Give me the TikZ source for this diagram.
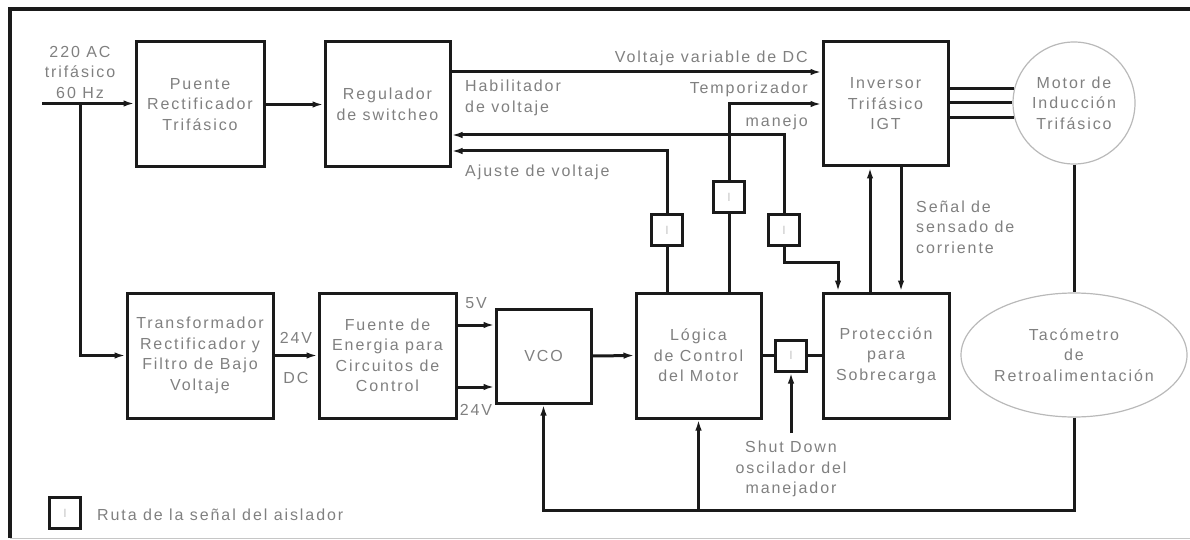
\documentclass[tikz,border=0pt]{standalone}
\usepackage{fontspec}
\setmainfont{Liberation Sans}[LetterSpace=12]
\usetikzlibrary{arrows.meta,calc,shapes.geometric}
\definecolor{txt}{HTML}{808080}
\definecolor{ln}{HTML}{1A1A1A}
\begin{document}
\begin{tikzpicture}[x=1pt,y=-1pt,
  font=\fontsize{16}{20.5}\selectfont,
  blk/.style={draw=ln, line width=3pt, text=txt, align=center, inner sep=0pt},
  iso/.style={draw=ln, line width=3pt, text=gray!45, minimum width=31pt, minimum height=31pt, inner sep=0pt, font=\fontsize{12}{12}\selectfont},
  lbl/.style={text=txt, inner sep=0pt},
  wire/.style={draw=ln, line width=3pt},
  arr/.style={wire, -{Latex[length=11pt,width=6.5pt]}}]
\useasboundingbox (0,0) rectangle (1190,540);
% frame
\draw[ln, line width=3.4pt] (10,538) -- (10,9) -- (1190,9);
\draw[gray!45, line width=1pt] (10,538) -- (1190,538);
% blocks
\node[blk, minimum width=128pt, minimum height=125pt] (puente) at (200,104.5) {Puente\\Rectificador\\Trifásico};
\node[blk, minimum width=125pt, minimum height=125pt] (reg) at (387.5,104.5) {Regulador\\de switcheo};
\node[blk, minimum width=125pt, minimum height=124pt] (inv) at (885.5,104) {Inversor\\Trifásico\\IGT};
\node[circle, draw=gray!55, line width=1.2pt, minimum size=122pt, text=txt, align=center, inner sep=0pt] (motor) at (1074,103) {Motor de\\Inducción\\Trifásico};
\node[blk, minimum width=146pt, minimum height=125pt] (trans) at (200,355.5) {Transformador\\Rectificador y\\Filtro de Bajo\\Voltaje};
\node[blk, minimum width=137pt, minimum height=125pt] (fuente) at (387.5,355.5) {Fuente de\\Energia para\\Circuitos de\\Control};
\node[blk, minimum width=95pt, minimum height=94pt] (vco) at (543.5,356) {VCO};
\node[blk, minimum width=125pt, minimum height=125pt] (logica) at (698.5,355.5) {Lógica\\de Control\\del Motor};
\node[blk, minimum width=126pt, minimum height=125pt] (prot) at (886,355.5) {Protección\\para\\Sobrecarga};
\node[ellipse, draw=gray!55, line width=1.2pt, minimum width=226pt, minimum height=124pt, text=txt, align=center, inner sep=0pt] (tac) at (1074,355) {Tacómetro\\de\\Retroalimentación};
% isolators
\node[iso] (i1) at (667,230) {I};
\node[iso] (i2) at (729,197) {I};
\node[iso] (i3) at (784,230) {I};
\node[iso] (i4) at (791,355.5) {I};
\node[iso] (il) at (65,513) {I};
% input
\coordinate (in) at (42,103.5);
\coordinate (br) at (80,103.5);
\draw[arr] (in) -- (in -| puente.west);
\draw[arr] (br) |- (trans.west);
\draw[arr] (puente.east) -- (reg.west);
\draw[arr] (trans.east) -- (fuente.west);
\draw[arr] (fuente.east |- 0,325) -- (vco.west |- 0,325);
\draw[arr] (fuente.east |- 0,387) -- (vco.west |- 0,387);
\draw[arr] (vco.east) -- (logica.west);
\draw[wire] (logica.east) -- (i4.west);
\draw[wire] (i4.east) -- (prot.west);
\coordinate (sd) at (791,433);
\draw[arr] (sd) -- (i4.south);
% feedback
\coordinate (fb1) at (1074,510);
\coordinate (fb2) at (698.5,510);
\draw[wire] (motor.south) -- (tac.north);
\draw[arr] (tac.south) -- (fb1) -| (vco.south);
\draw[arr] (fb2) -- (logica.south);
% top signals
\draw[arr] (reg.east |- 0,72) -- (inv.west |- 0,72);
\draw[wire] (logica.north -| i2) -- (i2.south);
\draw[arr] (i2.north) |- (inv.west |- 0,104);
\draw[wire] (logica.north -| i1) -- (i1.south);
\draw[arr] (i1.north) |- (reg.east |- 0,151);
\draw[arr] (i3.north) |- (reg.east |- 0,135);
\coordinate (pk) at (838,262);
\draw[arr] (i3.south) |- (pk) -- (prot.north -| pk);
\draw[arr] (prot.north -| 870,0) -- (inv.south -| 870,0);
\draw[arr] (inv.south -| 901,0) -- (prot.north -| 901,0);
\draw[wire] (inv.east |- motor.166) -- (motor.166);
\draw[wire] (inv.east |- motor.west) -- (motor.west);
\draw[wire] (inv.east |- motor.194) -- (motor.194);
% labels
\node[lbl, align=center] (lin) at (80,72) {220 AC\\trifásico\\60 Hz};
\node[lbl] (l24a) at (296,338) {24V};
\node[lbl] (ldc) at (296,378) {DC};
\node[lbl] (l5v) at (476,303) {5V};
\node[lbl] (l24b) at (476,410) {24V};
\node[lbl, anchor=east] (lv) at (808,58) {Voltaje variable de DC};
\node[lbl, anchor=east] (lt) at (808,89) {Temporizador};
\node[lbl, anchor=east] (lm) at (808,122) {manejo};
\node[lbl, anchor=west, align=left] (lh) at (465,98) {Habilitador\\de voltaje};
\node[lbl, anchor=west] (la) at (465,172) {Ajuste de voltaje};
\node[lbl, anchor=west, align=left] (ls) at (916,227) {Señal de\\sensado de\\corriente};
\node[lbl, align=center] (lsd) at (791,469) {Shut Down\\oscilador del\\manejador};
\node[lbl, anchor=west] (lleg) at (97,515) {Ruta de la señal del aislador};
\end{tikzpicture}
\end{document}
